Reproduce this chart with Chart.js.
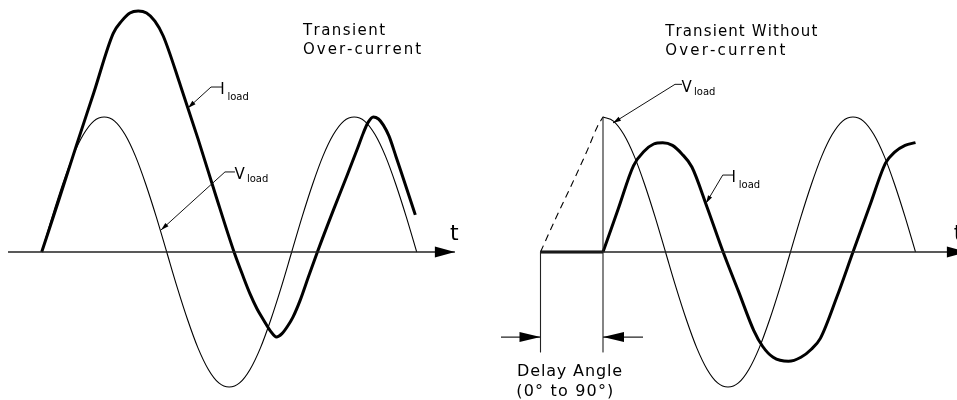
<!DOCTYPE html>
<html><head><meta charset="utf-8">
<script src="https://cdn.jsdelivr.net/npm/chart.js@4/dist/chart.umd.min.js"></script>
<style>html,body{margin:0;padding:0;background:#fff;}canvas{display:block;}</style>
</head><body>
<canvas id="c" width="957" height="400"></canvas>
<script>
// ---- values (x in electrical degrees, y in % of Vload peak) ----
const vDeg = [0,15,30,45,60,75,90,105,120,135,150,165,180,195,210,225,240,255,270,285,300,315,330,345,360,375,390,405,420,435,450,465,480,495,510,525,540];
const vVal = [0,26,50,71,87,97,100,97,87,71,50,26,0,-26,-50,-71,-87,-97,-100,-97,-87,-71,-50,-26,0,26,50,71,87,97,100,97,87,71,50,26,0];

const iOverDeg = [0,25,50,75,103,115,127,139,151,163,175,200,225,250,277,290,300,310,319,330,338,346,354,362,372,384,397,420,440,455,463,470,477.5,485,492,500,510,520,530,538];
const iOverVal = [0,39,79,118,162,171,177,178.5,177,171,160,123,84,43,0,-18,-31,-42,-50,-59,-63,-60.5,-55,-48,-36,-18.5,0,31,57,77,88,96,100,98.5,94,86,71,55.5,40,27.5];

const vRampDeg = [0,22,45,68,82,90];
const vRampVal = [0,25,50,76,93,100];

const iDelayFlatDeg = [0,90];
const iDelayFlatVal = [0,0];
const iDelayDeg = [90,112,134,150,163,176,190,203,218,240,263,285,307,320,335,357,375,390,403,427,450,474,497,510,525,540];
const iDelayVal = [0,32,64,75,80,81,79,73,63,33,0,-29,-58,-70,-78,-81,-78,-72,-64,-33,0,34,66,74,79,81];

const delayStart = 0;   // degrees
const delayEnd = 90;    // degrees

// ---- annotation layout (data coordinates) ----
const PXDEG = 250/360, PXPCT = 1.35;
const W = 957, H = 400;
const leftOrigin = 41.7, rightOrigin = 540.5, axisY = 252;

const leaders = [
  {p:'L', pts:[[259.6,122.2],[243.8,122.2],[210.7,106.7]], main:'I', sub:'load'},
  {p:'L', pts:[[278.3,59.3],[263.9,59.3],[171.8,16.3]], main:'V', sub:'load'},
  {p:'R', pts:[[203.8,124.2],[193.7,124.2],[104.4,95.6]], main:'V', sub:'load'},
  {p:'R', pts:[[277.6,57.0],[262.4,57.0],[238.3,36.1]], main:'I', sub:'load'}
];
const arrows = [
  {p:'L', pts:[[-48.5,0],[595,0]], len:20, half:5.5, w:1.5},
  {p:'R', pts:[[0,0],[614,0]], len:20, half:5.5, w:1.5},
  {p:'R', pts:[[-56.9,-63],[delayStart,-63]], len:21, half:5, w:1.2},
  {p:'R', pts:[[147.6,-63],[delayEnd,-63]], len:21, half:5, w:1.2}
];
const verticals = [
  {p:'R', pts:[[delayStart,0],[delayStart,-74]]},
  {p:'R', pts:[[delayEnd,100],[delayEnd,-74]]}
];
const texts = [
  {p:'L', t:'Transient', x:376.3, y:161.1, w:82, size:15},
  {p:'L', t:'Over-current', x:376.3, y:147.0, w:118, size:15},
  {p:'R', t:'Transient Without', x:179.7, y:160.0, w:152, size:15},
  {p:'R', t:'Over-current', x:179.7, y:145.9, w:120, size:15},
  {p:'R', t:'Delay Angle', x:-33.8, y:-91.9, w:105, size:16},
  {p:'R', t:'(0° to 90°)', x:-34.8, y:-106.7, w:97, size:16},
  {p:'L', t:'t', x:588, y:8.9, size:22},
  {p:'R', t:'t', x:595, y:8.9, size:22}
];

// ---- build datasets ----
const zip = (xs, ys) => xs.map((x, i) => ({x, y: ys[i]}));
const ax = p => p === 'L' ? 'xL' : 'xR';
const ds = [];
function line(p, data, width, extra) {
  ds.push(Object.assign({
    data, xAxisID: ax(p), yAxisID: 'y', borderColor: '#000', borderWidth: width,
    pointRadius: 0, fill: false, clip: false, tension: 0,
    borderCapStyle: 'butt', borderJoinStyle: 'round'
  }, extra || {}));
}
const smooth = {cubicInterpolationMode: 'monotone'};
// axes
arrows.forEach(a => line(a.p, a.pts.map(([x,y]) => ({x,y})), a.w, {borderColor:'#222'}));
verticals.forEach(v => line(v.p, v.pts.map(([x,y]) => ({x,y})), 1.1, {borderColor:'#222'}));
leaders.forEach(l => line(l.p, l.pts.map(([x,y]) => ({x,y})), 1, {borderColor:'#111'}));
// left panel
line('L', zip(vDeg, vVal), 1.1, smooth);
line('L', zip(iOverDeg, iOverVal), 3, smooth);
// right panel
line('R', zip(vRampDeg, vRampVal), 1.1, Object.assign({borderDash:[7,5]}, smooth));
const vSolid = zip(vDeg, vVal).filter(d => d.x >= delayEnd);
line('R', vSolid, 1.1, smooth);
line('R', zip(iDelayFlatDeg, iDelayFlatVal), 3);
line('R', zip(iDelayDeg, iDelayVal), 3, smooth);

// ---- plugin: arrowheads and text ----
function spacedText(ctx, t, x, y, target) {
  const chars = [...t];
  const widths = chars.map(c => ctx.measureText(c).width);
  const nat = widths.reduce((a, b) => a + b, 0);
  const sp = (target && chars.length > 1) ? (target - nat) / (chars.length - 1) : 0;
  let cx = x;
  chars.forEach((c, i) => { ctx.fillText(c, cx, y); cx += widths[i] + sp; });
}
function head(ctx, tip, from, len, half) {
  const dx = tip[0] - from[0], dy = tip[1] - from[1];
  const d = Math.hypot(dx, dy) || 1, ux = dx / d, uy = dy / d;
  const bx = tip[0] - ux * len, by = tip[1] - uy * len;
  ctx.beginPath();
  ctx.moveTo(tip[0], tip[1]);
  ctx.lineTo(bx - uy * half, by + ux * half);
  ctx.lineTo(bx + uy * half, by - ux * half);
  ctx.closePath();
  ctx.fill();
}
const annot = {
  id: 'annot',
  afterDatasetsDraw(chart) {
    const ctx = chart.ctx, ys = chart.scales.y;
    const px = (p, x, y) => [chart.scales[ax(p)].getPixelForValue(x), ys.getPixelForValue(y)];
    ctx.save();
    ctx.fillStyle = '#000';
    arrows.forEach(a => {
      const n = a.pts.length;
      head(ctx, px(a.p, ...a.pts[n-1]), px(a.p, ...a.pts[n-2]), a.len, a.half);
    });
    leaders.forEach(l => {
      const n = l.pts.length;
      head(ctx, px(l.p, ...l.pts[n-1]), px(l.p, ...l.pts[n-2]), 8, 2.3);
      const [ex, ey] = px(l.p, ...l.pts[0]);
      ctx.textBaseline = 'alphabetic';
      ctx.font = '15px "DejaVu Sans"';
      if (l.main === 'I') {
        ctx.textAlign = 'center';
        ctx.fillText(l.main, ex + 0.5, ey + 6.5);
        ctx.textAlign = 'left';
        ctx.font = '10px "DejaVu Sans"';
        ctx.fillText(l.sub, ex + 5.5, ey + 12.5);
      } else {
        ctx.textAlign = 'left';
        ctx.fillText(l.main, ex - 0.5, ey + 7.5);
        ctx.font = '10px "DejaVu Sans"';
        ctx.fillText(l.sub, ex + 12, ey + 10.5);
      }
    });
    texts.forEach(t => {
      const [x, y] = px(t.p, t.x, t.y);
      ctx.font = t.size + 'px "DejaVu Sans"';
      ctx.textAlign = 'left';
      ctx.textBaseline = 'alphabetic';
      spacedText(ctx, t.t, x, y, t.w);
    });
    ctx.restore();
  }
};

new Chart(document.getElementById('c'), {
  type: 'line',
  data: {datasets: ds},
  options: {
    responsive: false, animation: false, devicePixelRatio: 1, events: [],
    layout: {padding: 0},
    plugins: {legend: {display: false}, tooltip: {enabled: false}},
    scales: {
      xL: {type: 'linear', axis: 'x', display: false, min: -leftOrigin / PXDEG, max: (W - leftOrigin) / PXDEG},
      xR: {type: 'linear', axis: 'x', display: false, min: -rightOrigin / PXDEG, max: (W - rightOrigin) / PXDEG},
      y: {type: 'linear', display: false, min: -(H - axisY) / PXPCT, max: axisY / PXPCT}
    }
  },
  plugins: [annot]
});
</script>
</body></html>
